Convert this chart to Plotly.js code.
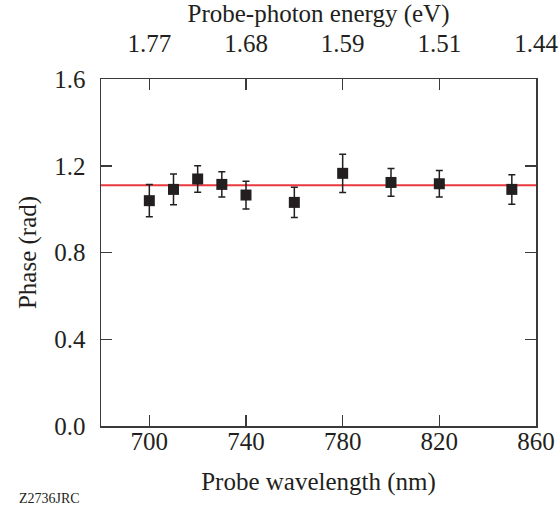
<!DOCTYPE html>
<html>
<head>
<meta charset="utf-8">
<script src="https://cdn.plot.ly/plotly-3.0.1.min.js"></script>
<style>html,body{margin:0;padding:0;background:#fff;}#chart{width:560px;height:506px;}</style>
</head>
<body>
<div id="chart"></div>
<script>
// Data
const wavelength = [700, 710, 720, 730, 740, 760, 780, 800, 820, 850];
const phase      = [1.039, 1.091, 1.139, 1.114, 1.065, 1.031, 1.165, 1.123, 1.117, 1.091];
const phaseErr   = [0.074, 0.071, 0.061, 0.058, 0.064, 0.070, 0.088, 0.064, 0.061, 0.068];
const fitPhase = 1.110;

const xTickVals = [700, 740, 780, 820, 860];
const energyTickText = ['1.77', '1.68', '1.59', '1.51', '1.44'];
const yTickVals = [0, 0.4, 0.8, 1.2, 1.6];
const yTickText = ['0.0', '0.4', '0.8', '1.2', '1.6'];

const ink = '#231f20';
const frame = '#3a3a3a';
const serif = '"Liberation Serif", "Times New Roman", serif';
const fs = 25;

const traces = [
  {
    x: wavelength, y: phase, type: 'scatter', mode: 'markers',
    marker: {symbol: 'square', size: 11, color: ink, line: {width: 0}},
    error_y: {type: 'data', array: phaseErr, visible: true, color: ink, thickness: 1.5, width: 3.5},
    hoverinfo: 'skip', showlegend: false
  },
  {
    x: wavelength, y: phase, xaxis: 'x2', type: 'scatter', mode: 'markers',
    marker: {opacity: 0}, hoverinfo: 'skip', showlegend: false
  }
];

const layout = {
  width: 560, height: 506,
  margin: {l: 101, r: 24, t: 79, b: 80},
  paper_bgcolor: '#fff', plot_bgcolor: '#fff',
  font: {family: serif, color: ink, size: fs},
  showlegend: false,
  xaxis: {
    range: [680, 860], tickvals: xTickVals, ticktext: xTickVals.map(String),
    ticks: 'inside', ticklen: 11, tickwidth: 1.5, tickcolor: frame,
    showline: true, linecolor: frame, linewidth: 1.5, mirror: true,
    showgrid: false, zeroline: false, ticklabelstandoff: -8,
    tickfont: {family: serif, size: fs, color: ink},
    title: {text: 'Probe wavelength (nm)', font: {family: serif, size: fs, color: ink}, standoff: 19}
  },
  xaxis2: {
    overlaying: 'x', side: 'top', anchor: 'y', matches: 'x',
    range: [680, 860], tickvals: xTickVals, ticktext: energyTickText,
    ticks: 'inside', ticklen: 11, tickwidth: 1.5, tickcolor: frame,
    showline: false, showgrid: false, zeroline: false, ticklabelstandoff: 21,
    tickfont: {family: serif, size: fs, color: ink},
    title: {text: 'Probe-photon energy (eV)', font: {family: serif, size: fs, color: ink}, standoff: 3}
  },
  yaxis: {
    range: [0, 1.6], tickvals: yTickVals, ticktext: yTickText,
    ticks: 'inside', ticklen: 11, tickwidth: 1.5, tickcolor: frame,
    showline: true, linecolor: frame, linewidth: 1.5, mirror: 'ticks',
    showgrid: false, zeroline: false, ticklabelstandoff: 9,
    tickfont: {family: serif, size: fs, color: ink},
    title: {text: 'Phase (rad)', font: {family: serif, size: fs, color: ink}, standoff: 10}
  },
  shapes: [
    {type: 'line', xref: 'paper', x0: 0, x1: 1, yref: 'y', y0: fitPhase, y1: fitPhase,
     line: {color: '#e8383d', width: 2}, layer: 'below'}
  ],
  annotations: [
    {text: 'Z2736JRC', xref: 'paper', yref: 'paper', x: -0.19, y: -0.2075, xanchor: 'left', yanchor: 'middle',
     showarrow: false, borderpad: 0, font: {family: serif, size: 14, color: ink}}
  ]
};

Plotly.newPlot('chart', traces, layout, {displayModeBar: false, staticPlot: true});
</script>
</body>
</html>
